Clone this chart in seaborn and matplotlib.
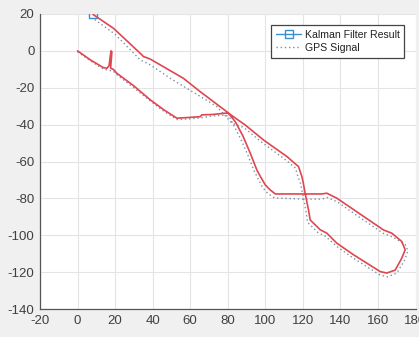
import numpy as np
import pandas as pd
import matplotlib
matplotlib.use("Agg")
import matplotlib.pyplot as plt
from matplotlib.lines import Line2D
import seaborn as sns

# Kalman filter result path (x, y)
kf_x = [0, 7, 13.8, 15.7, 16.8, 17.8, 18.3, 17.6, 19, 21, 30, 38.8, 46, 52.9, 58, 65.3, 66.2, 72, 78.6, 80.4,
        84, 88, 92, 95.5, 97.3, 100, 102.6, 105.3, 121, 130.1, 132.8, 138.1, 150.5, 162.9, 167.4, 172.7, 174.5,
        172.7, 169.2, 164.7, 161.2, 147, 138.1, 132.8, 129.2, 123.9, 123, 121.2, 120.3, 119.5, 117.7, 111.5,
        99, 89.3, 80.4, 79.5, 65.3, 56.4, 38.8, 36.6, 35.1, 34.3, 19.2, 8.2]
kf_y = [0, -5, -9.1, -9.4, -8, 0, -0.5, -9.4, -10, -12.2, -19, -26.6, -32, -36.5, -36.2, -35.7, -34.7, -34.5,
        -33.8, -33.8, -38.4, -46, -55.5, -64.6, -68, -72.7, -75.4, -77.6, -77.6, -77.6, -77.2, -79.9, -88.5,
        -97.1, -98.9, -103.4, -107.9, -112.4, -118.9, -120.5, -119.7, -110.6, -104.3, -98.9, -97, -91.7, -86.2,
        -77.2, -72, -68.2, -62.8, -57.3, -48.3, -40.2, -33.8, -33, -22.1, -14.9, -4.5, -3.6, -3.1, -2.2, 12.2, 19.8]

# GPS signal path (x, y)
gps_x = [0, 7, 14, 19, 21, 30, 38.8, 46, 52.9, 58, 65.3, 72, 78.6, 81, 83, 87, 90.5, 94, 96, 98.5, 101.5, 105,
         121, 130, 133, 138.5, 150.5, 162.9, 168, 174.5, 176, 174, 170, 165, 161, 147, 138, 132, 128, 122.5,
         121.5, 120, 118.8, 117.5, 116, 110, 98, 88.5, 82.2, 74.2, 65, 49.4, 38.8, 33.4, 20, 8.2]
gps_y = [-0.5, -5.5, -10, -11, -13, -20, -27.2, -32.8, -37.2, -37, -36.4, -35.3, -34.8, -36, -40, -48, -56, -65,
         -69, -74, -77.5, -79.8, -80.4, -80.4, -79.5, -82, -90.5, -99, -101, -105, -108.5, -114, -120.5, -122.6,
         -121.5, -112.5, -106, -100.5, -98.5, -93, -86, -78, -72, -68.5, -63.5, -58.5, -49.5, -41.5, -39.2,
         -30.2, -24.5, -14.9, -7.6, -4.9, 9, 17.7]

x_ticks = [-20, 0, 20, 40, 60, 80, 100, 120, 140, 160, 180]
y_ticks = [-140, -120, -100, -80, -60, -40, -20, 0, 20]
legend_labels = ["Kalman Filter Result", "GPS Signal"]

sns.set_style("whitegrid")
plt.rcParams['font.family'] = ['Liberation Sans', 'DejaVu Sans']
plt.rcParams['axes.unicode_minus'] = False

fig = plt.figure(figsize=(4.19, 3.37), dpi=100)
fig.patch.set_facecolor('#f0f0f0')
ax = fig.add_axes([40 / 419, 28 / 337, 375.5 / 419, 295 / 337])
ax.set_facecolor('white')

kf_df = pd.DataFrame({"x": kf_x, "y": kf_y})
gps_df = pd.DataFrame({"x": gps_x, "y": gps_y})

sns.lineplot(data=gps_df, x="x", y="y", sort=False, estimator=None, ax=ax,
             color='#7a8fa6', linestyle=(0, (1, 2)), linewidth=1.0)
sns.lineplot(data=kf_df, x="x", y="y", sort=False, estimator=None, ax=ax,
             color='#e0464f', linewidth=1.2)
ax.plot([kf_x[-1]], [kf_y[-1]], marker='s', markersize=6, markerfacecolor='none',
        markeredgecolor='#3a8fd0', markeredgewidth=1.0, linestyle='none')

ax.set_xlim(-20, 180)
ax.set_ylim(-140, 20)
ax.set_xticks(x_ticks)
ax.set_yticks(y_ticks)
ax.set_xlabel("")
ax.set_ylabel("")
ax.grid(True, color='#e4e4e4', linewidth=0.8)
ax.tick_params(axis='both', direction='in', length=3, width=0.8, colors='#555555',
               labelsize=9.5, labelcolor='#404040', pad=4)
for side in ['top', 'right']:
    ax.spines[side].set_visible(False)
for side in ['left', 'bottom']:
    ax.spines[side].set_visible(True)
    ax.spines[side].set_color('#555555')
    ax.spines[side].set_linewidth(0.9)

handles = [
    Line2D([0], [0], color='#3a8fd0', linewidth=1.0, marker='s', markersize=6,
           markerfacecolor='none', markeredgecolor='#3a8fd0'),
    Line2D([0], [0], color='#7a8fa6', linewidth=1.0, linestyle=(0, (1, 2))),
]
leg = ax.legend(handles, legend_labels, loc='upper right', bbox_to_anchor=(0.97, 0.9625),
                borderaxespad=0, fontsize=7.6, frameon=True, fancybox=False, framealpha=1,
                handlelength=2.4, handletextpad=0.3, borderpad=0.45, labelspacing=0.3)
leg.get_frame().set_edgecolor('#444444')
leg.get_frame().set_linewidth(0.9)
for t in leg.get_texts():
    t.set_color('#222222')

fig.savefig("out.png", dpi=100, facecolor=fig.get_facecolor())
